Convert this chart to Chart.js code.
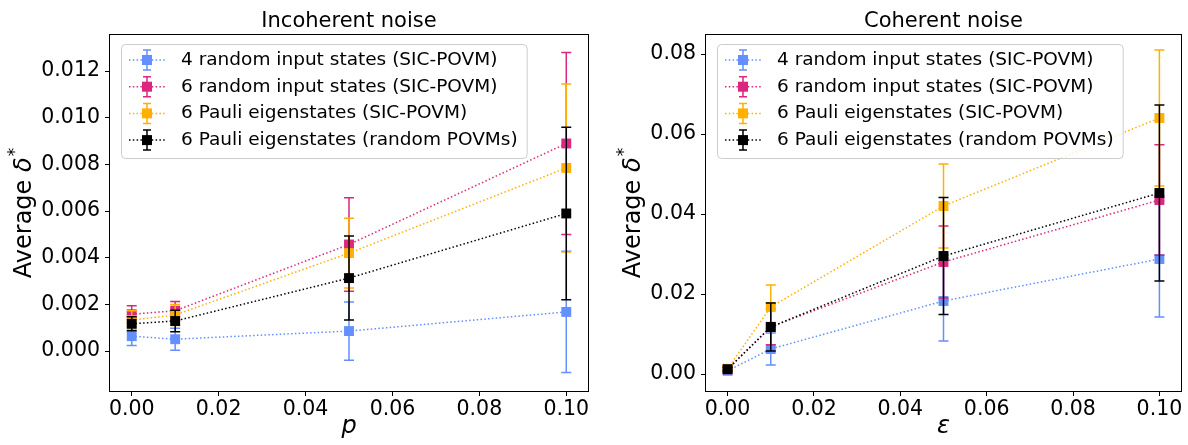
<!DOCTYPE html>
<html>
<head>
<meta charset="utf-8">
<title>Average delta* under incoherent and coherent noise</title>
<script src="https://cdn.jsdelivr.net/npm/chart.js@4.4.0/dist/chart.umd.min.js"></script>
<style>
  body { margin: 0; background: #fff; }
  .panel { position: absolute; top: 0; height: 445px; }
</style>
</head>
<body>
<div class="panel" style="left:0;width:600px"><canvas id="incoherentChart"></canvas></div>
<div class="panel" style="left:600px;width:588px"><canvas id="coherentChart"></canvas></div>
<script>
// noise strength on the x axis (p for incoherent, epsilon for coherent)
const noiseLevels = [0, 0.01, 0.05, 0.1];
const seriesLabels = [
  '4 random input states (SIC-POVM)',
  '6 random input states (SIC-POVM)',
  '6 Pauli eigenstates (SIC-POVM)',
  '6 Pauli eigenstates (random POVMs)'
];

// incoherent noise: means and error bar half-widths
const inc4Random    = [0.00064, 0.00051, 0.00086, 0.00168];
const inc4RandomErr = [0.0004, 0.00047, 0.00125, 0.0026];
const inc6Random    = [0.00158, 0.00173, 0.00457, 0.0089];
const inc6RandomErr = [0.00036, 0.0004, 0.002, 0.0039];
const incPauliSic    = [0.00133, 0.00155, 0.0042, 0.00785];
const incPauliSicErr = [0.0004, 0.00045, 0.0015, 0.0036];
const incPauliRnd    = [0.00117, 0.00129, 0.00313, 0.0059];
const incPauliRndErr = [0.0003, 0.00046, 0.0018, 0.0037];

// coherent noise
const coh4Random    = [0.0008, 0.00625, 0.01825, 0.02875];
const coh4RandomErr = [0.0004, 0.004, 0.01, 0.0145];
const coh6Random    = [0.0012, 0.0118, 0.028, 0.0435];
const coh6RandomErr = [0.0005, 0.0045, 0.009, 0.0138];
const cohPauliSic    = [0.0013, 0.01675, 0.042, 0.064];
const cohPauliSicErr = [0.0005, 0.0055, 0.0105, 0.017];
const cohPauliRnd    = [0.0012, 0.01175, 0.0295, 0.04525];
const cohPauliRndErr = [0.0004, 0.006, 0.0146, 0.022];

// tick labels
const xTicks = [0, 0.02, 0.04, 0.06, 0.08, 0.10];
const incYTicks = [0, 0.002, 0.004, 0.006, 0.008, 0.010, 0.012];
const cohYTicks = [0, 0.02, 0.04, 0.06, 0.08];

const FONT = '"DejaVu Sans", sans-serif';
const colors = ['#648fff', '#dc267f', '#ffb000', '#000000'];
Chart.defaults.font.family = FONT;
Chart.defaults.color = '#000';

// vertical error bars, drawn just under each series' line and markers
const errorBars = {
  id: 'errorBars',
  beforeDatasetDraw(chart, args) {
    const ds = chart.data.datasets[args.index];
    const { ctx, chartArea: a, scales: { x, y } } = chart;
    ctx.save();
    ctx.beginPath();
    ctx.rect(a.left, a.top, a.right - a.left, a.bottom - a.top);
    ctx.clip();
    ctx.strokeStyle = ds.borderColor;
    ctx.lineWidth = 1.5;
    ds.data.forEach((p, i) => {
      const px = x.getPixelForValue(p.x);
      const hi = y.getPixelForValue(p.y + ds.errors[i]);
      const lo = y.getPixelForValue(p.y - ds.errors[i]);
      ctx.beginPath();
      ctx.moveTo(px, hi); ctx.lineTo(px, lo);
      ctx.moveTo(px - 5, hi); ctx.lineTo(px + 5, hi);
      ctx.moveTo(px - 5, lo); ctx.lineTo(px + 5, lo);
      ctx.stroke();
    });
    ctx.restore();
  }
};

// full box around the plotting area, plus the panel title centred over it
const frame = {
  id: 'frame',
  afterDatasetsDraw(chart, args, opts) {
    const { ctx, chartArea: a } = chart;
    ctx.save();
    ctx.strokeStyle = '#000';
    ctx.lineWidth = 1;
    ctx.strokeRect(Math.round(a.left) - 0.5, Math.round(a.top) - 0.5,
      Math.round(a.right - a.left) + 1, Math.round(a.bottom - a.top) + 1);
    ctx.fillStyle = '#000';
    ctx.font = `21px ${FONT}`;
    ctx.textAlign = 'center';
    ctx.textBaseline = 'alphabetic';
    ctx.fillText(opts.title, (a.left + a.right) / 2, 27);
    ctx.restore();
  }
};

// legend box in the upper-left corner, with errorbar handles
const legendBox = {
  id: 'legendBox',
  afterDraw(chart) {
    const { ctx, chartArea: a } = chart;
    const items = chart.data.datasets;
    ctx.save();
    ctx.font = `18.5px ${FONT}`;
    const textW = Math.max(...items.map(d => ctx.measureText(d.label).width));
    const x0 = Math.round(a.left) + 11, y0 = Math.round(a.top) + 9;
    const w = 60 + textW + 9, h = 114;
    ctx.beginPath();
    ctx.roundRect(x0 + 0.5, y0 + 0.5, w, h, 4);
    ctx.fillStyle = 'rgba(255,255,255,0.8)';
    ctx.fill();
    ctx.strokeStyle = '#cccccc';
    ctx.lineWidth = 1;
    ctx.stroke();
    items.forEach((d, i) => {
      const cy = y0 + 16 + i * 26.7, cx = x0 + 26;
      ctx.strokeStyle = d.borderColor;
      ctx.lineWidth = 1.5;
      ctx.setLineDash([1.5, 2.3]);
      ctx.beginPath(); ctx.moveTo(cx - 18, cy); ctx.lineTo(cx + 18, cy); ctx.stroke();
      ctx.setLineDash([]);
      ctx.beginPath();
      ctx.moveTo(cx, cy - 10); ctx.lineTo(cx, cy + 10);
      ctx.moveTo(cx - 4, cy - 10); ctx.lineTo(cx + 4, cy - 10);
      ctx.moveTo(cx - 4, cy + 10); ctx.lineTo(cx + 4, cy + 10);
      ctx.stroke();
      ctx.fillStyle = d.borderColor;
      ctx.fillRect(cx - 5, cy - 5, 10, 10);
      ctx.fillStyle = '#000';
      ctx.textBaseline = 'middle';
      ctx.fillText(d.label, x0 + 60, cy);
    });
    ctx.restore();
  }
};

// "Average δ*" with italic delta and raised star
const yLabel = {
  id: 'yLabel',
  afterDraw(chart) {
    const { ctx, chartArea: a, scales: { y } } = chart;
    ctx.save();
    ctx.font = `20.5px ${FONT}`;
    const tickW = Math.max(...y.ticks.map(t => ctx.measureText(t.label).width));
    const bx = a.left - 10 - tickW - 10;
    const cy = (a.top + a.bottom) / 2;
    ctx.translate(bx, cy);
    ctx.rotate(-Math.PI / 2);
    const reg = `24px ${FONT}`, ital = `italic 24px ${FONT}`, sup = `17px ${FONT}`;
    ctx.font = reg; const w1 = ctx.measureText('Average ').width;
    ctx.font = ital; const w2 = ctx.measureText('δ').width;
    ctx.font = sup; const w3 = ctx.measureText('*').width;
    let x = -(w1 + w2 + w3 + 1) / 2;
    ctx.fillStyle = '#000';
    ctx.textBaseline = 'alphabetic';
    ctx.font = reg; ctx.fillText('Average ', x, 0); x += w1;
    ctx.font = ital; ctx.fillText('δ', x, 0); x += w2 + 1;
    ctx.font = sup; ctx.fillText('*', x, -11);
    ctx.restore();
  }
};

function series(i, means, errs) {
  return {
    label: seriesLabels[i],
    data: noiseLevels.map((x, k) => ({ x, y: means[k] })),
    errors: errs,
    borderColor: colors[i],
    backgroundColor: colors[i],
    borderWidth: 1.5,
    borderDash: [1.5, 2.3],
    pointStyle: 'rect',
    pointRadius: 7,
    pointHoverRadius: 7,
    pointBorderWidth: 0,
    showLine: true,
    order: 3 - i
  };
}

function makeChart(id, title, xLabel, datasets, yTicks, digits, yMin, yMax, yWidth, padRight) {
  return new Chart(document.getElementById(id), {
    type: 'scatter',
    data: { datasets },
    plugins: [errorBars, frame, legendBox, yLabel],
    options: {
      responsive: true, maintainAspectRatio: false, animation: false, devicePixelRatio: 1,
      layout: { padding: { left: 0, right: padRight, top: 35, bottom: 0 } },
      plugins: {
        legend: { display: false },
        tooltip: { enabled: false },
        title: { display: false },
        frame: { title }
      },
      scales: {
        x: {
          type: 'linear', min: -0.005, max: 0.105,
          afterBuildTicks: s => { s.ticks = xTicks.map(v => ({ value: v })); },
          afterFit: s => { s.height = 54; s.paddingLeft = 0; s.paddingRight = 0; },
          ticks: { callback: v => v.toFixed(2), color: '#000', font: { size: 20.5 }, padding: 1, maxRotation: 0, autoSkip: false },
          grid: { drawOnChartArea: false, tickLength: 5, tickColor: '#000', tickWidth: 1 },
          border: { display: false },
          title: { display: true, text: xLabel, color: '#000', font: { size: 24, style: 'italic' }, padding: { top: 0, bottom: 4 } }
        },
        y: {
          type: 'linear', min: yMin, max: yMax,
          afterBuildTicks: s => { s.ticks = yTicks.map(v => ({ value: v })); },
          afterFit: s => { s.width = yWidth; s.paddingTop = 0; s.paddingBottom = 0; },
          ticks: { callback: v => v.toFixed(digits), color: '#000', font: { size: 20.5 }, padding: 5, autoSkip: false },
          grid: { drawOnChartArea: false, tickLength: 5, tickColor: '#000', tickWidth: 1 },
          border: { display: false }
        }
      }
    }
  });
}

makeChart('incoherentChart', 'Incoherent noise', 'p', [
  series(0, inc4Random, inc4RandomErr),
  series(1, inc6Random, inc6RandomErr),
  series(2, incPauliSic, incPauliSicErr),
  series(3, incPauliRnd, incPauliRndErr)
], incYTicks, 3, -0.00171, 0.01355, 110, 12);

makeChart('coherentChart', 'Coherent noise', 'ε', [
  series(0, coh4Random, coh4RandomErr),
  series(1, coh6Random, coh6RandomErr),
  series(2, cohPauliSic, cohPauliSicErr),
  series(3, cohPauliRnd, cohPauliRndErr)
], cohYTicks, 2, -0.00425, 0.08475, 106, 4);
</script>
</body>
</html>
